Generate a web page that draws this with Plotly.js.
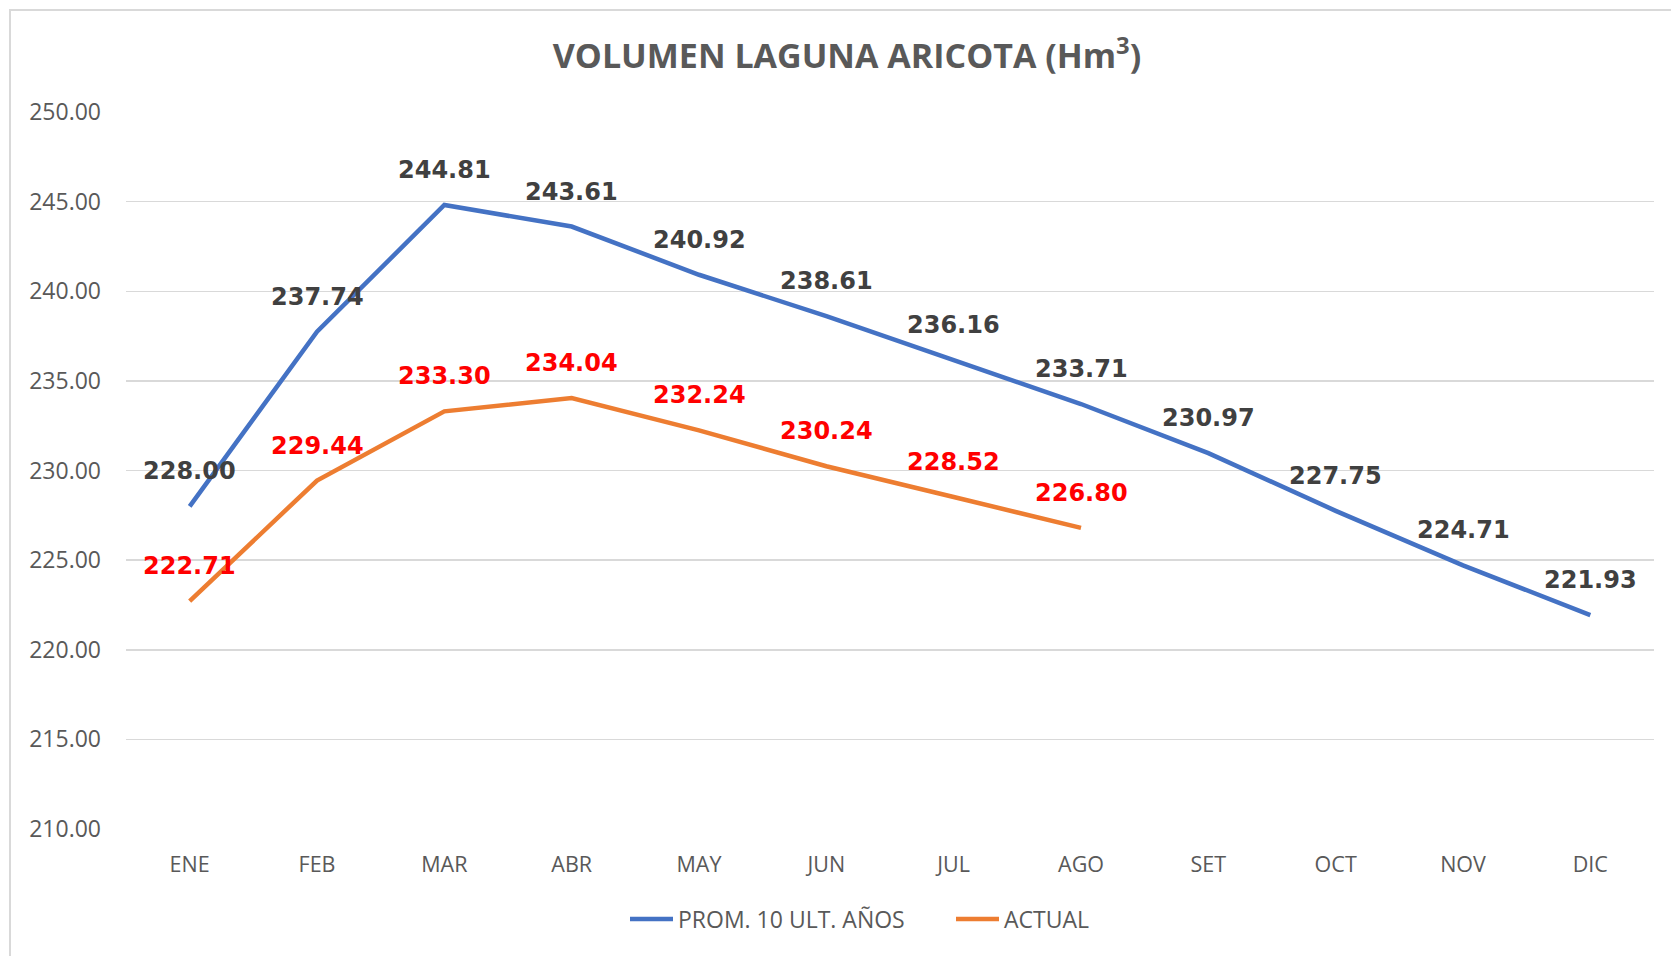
<!DOCTYPE html>
<html>
<head>
<meta charset="utf-8">
<script src="https://cdn.plot.ly/plotly-3.0.1.min.js"></script>
<style>
html,body{margin:0;padding:0;background:#fff;}
#chart{width:1671px;height:956px;}
</style>
</head>
<body>
<div id="chart"></div>
<script>
const months = ["ENE","FEB","MAR","ABR","MAY","JUN","JUL","AGO","SET","OCT","NOV","DIC"];
const promValues = [228.00, 237.74, 244.81, 243.61, 240.92, 238.61, 236.16, 233.71, 230.97, 227.75, 224.71, 221.93];
const actualValues = [222.71, 229.44, 233.30, 234.04, 232.24, 230.24, 228.52, 226.80, null, null, null, null];
const seriesNames = ["PROM. 10 ULT. AÑOS", "ACTUAL"];
const yTicks = [210, 215, 220, 225, 230, 235, 240, 245, 250];

const W = 1671, H = 956;
const margin = {l:126, r:17, t:112, b:127};
const plotW = W - margin.l - margin.r;
const plotH = H - margin.t - margin.b;

const traces = [
  {x: months, y: promValues, name: seriesNames[0], type: 'scatter', mode: 'lines',
   line: {color: '#4472C4', width: 4.5}, connectgaps: false, hoverinfo: 'skip'},
  {x: months, y: actualValues, name: seriesNames[1], type: 'scatter', mode: 'lines',
   line: {color: '#ED7D31', width: 4.5}, connectgaps: false, hoverinfo: 'skip'}
];

const annotations = [];
function addLabels(vals, color) {
  vals.forEach((v, i) => {
    if (v === null) return;
    annotations.push({x: months[i], y: v, xref: 'x', yref: 'y', text: v.toFixed(2),
      showarrow: false, yshift: 35, xanchor: 'center', yanchor: 'middle',
      font: {family: 'DejaVu Sans', size: 24, color: color, weight: 'bold'}});
  });
}
addLabels(promValues, '#404040');
addLabels(actualValues, '#FF0000');

const px = v => (v - margin.l) / plotW;
const py = v => (H - margin.b - v) / plotH;

const layout = {
  width: W, height: H,
  margin: margin,
  paper_bgcolor: '#ffffff', plot_bgcolor: '#ffffff',
  showlegend: true,
  title: {text: 'VOLUMEN LAGUNA ARICOTA (Hm<sup>3</sup>)', x: 847/W, xanchor: 'center',
    y: 1 - 56/H, yanchor: 'middle', xref: 'container', yref: 'container',
    font: {family: 'Open Sans', size: 34, color: '#595959', weight: 'bold'}},
  xaxis: {type: 'category', categoryorder: 'array', categoryarray: months,
    range: [-0.5, 11.5], showgrid: false, zeroline: false, showline: false, ticks: '',
    tickfont: {family: 'Open Sans', size: 21.5, color: '#595959'}, ticklabelstandoff: 20, fixedrange: true},
  yaxis: {range: [210, 250], tickvals: yTicks, ticktext: yTicks.map(v => v.toFixed(2)),
    showgrid: true, gridcolor: '#d9d9d9', gridwidth: 1.5, zeroline: false, showline: false, ticks: '',
    tickfont: {family: 'Open Sans', size: 23, color: '#595959'}, ticklabelstandoff: 24, fixedrange: true},
  legend: {orientation: 'h', x: px(625), xanchor: 'left', y: py(919), yanchor: 'middle',
    font: {family: 'Open Sans', size: 23, color: '#595959'}, itemwidth: 43,
    entrywidth: 268, entrywidthmode: 'pixels', traceorder: 'normal'},
  annotations: annotations,
  shapes: [{type: 'rect', xref: 'paper', yref: 'paper', x0: px(10), x1: px(W + 20), y0: py(H + 20), y1: py(10),
    line: {color: '#d9d9d9', width: 2}, fillcolor: 'rgba(0,0,0,0)', layer: 'below'}]
};

Plotly.newPlot('chart', traces, layout, {displayModeBar: false, staticPlot: true});
</script>
</body>
</html>
